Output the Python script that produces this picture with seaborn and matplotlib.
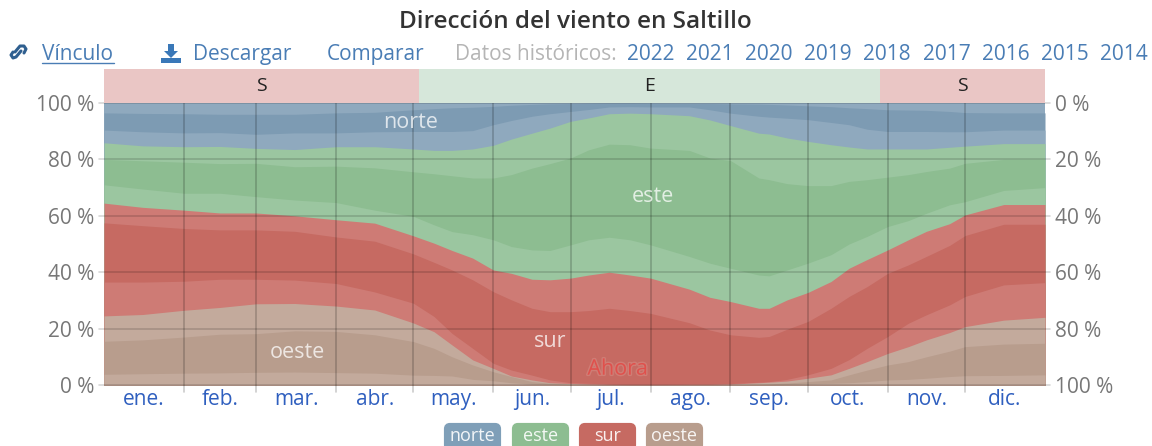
import numpy as np
import matplotlib
matplotlib.use("Agg")
import matplotlib.pyplot as plt
import matplotlib.patheffects as pe
from matplotlib.patches import FancyBboxPatch, Polygon
import seaborn as sns

# day of the year for every reading
days = [0, 15, 31, 45, 59, 74, 90, 105, 120, 128, 135, 143, 151, 158, 166, 173, 181, 188, 196, 204, 212, 227, 235, 243, 254,
        258, 265, 273, 282, 289, 296, 304, 312, 319, 328, 334, 349, 365]

# upper edge of each band (percent)
oeste_1 = [3.8, 4.0, 4.2, 4.3, 4.5, 4.6, 4.4, 4.2, 3.5, 3.4, 3.2, 2.0, 1.5, 0.8, 0.3, 0.2, 0.1, 0.1, 0.0, 0.0, 0.0, 0.0, 0.0, 0.1, 0.1,
           0.1, 0.2, 0.4, 0.6, 0.8, 1.2, 1.8, 2.0, 2.4, 3.0, 3.3, 3.4, 3.6]
oeste_2 = [15.5, 16.0, 17.0, 18.0, 18.2, 19.2, 19.0, 17.8, 15.4, 13.0, 10.0, 7.1, 4.7, 3.0, 1.2, 0.6, 0.3, 0.2, 0.1, 0.1, 0.1, 0.1, 0.1, 0.2, 0.3,
           0.4, 0.7, 1.2, 1.8, 3.6, 5.3, 7.1, 8.3, 10.0, 12.0, 13.6, 14.5, 14.8]
oeste_3 = [24.5, 25.0, 26.5, 27.5, 28.8, 28.9, 28.0, 26.6, 22.0, 18.9, 14.2, 8.9, 5.9, 3.2, 1.8, 0.8, 0.5, 0.3, 0.2, 0.1, 0.1, 0.2, 0.2, 0.3, 0.8,
           1.0, 1.4, 2.4, 3.6, 5.9, 8.3, 11.2, 13.6, 16.0, 18.6, 20.7, 23.0, 24.0]
sur_1 = [36.5, 36.5, 36.8, 37.5, 37.5, 37.2, 36.0, 33.0, 29.0, 24.3, 18.3, 13.0, 7.7, 5.3, 3.5, 1.8, 0.8, 0.6, 0.4, 0.3, 0.3, 0.4, 0.4, 0.5, 1.0,
         1.2, 2.0, 3.6, 5.9, 9.0, 13.0, 17.2, 21.9, 24.9, 28.4, 31.4, 35.5, 36.3]
sur_2 = [57.5, 56.5, 55.5, 55.0, 55.0, 54.5, 52.5, 51.0, 46.5, 43.5, 40.8, 37.3, 33.1, 30.2, 27.2, 26.0, 26.0, 26.4, 27.2, 26.4, 25.4, 22.1, 19.5, 17.8, 16.9,
         17.2, 19.8, 22.5, 27.2, 31.4, 34.9, 39.6, 42.6, 45.6, 49.5, 53.0, 57.0, 57.0]
sur_3 = [64.5, 63.0, 62.0, 61.0, 61.0, 60.0, 58.6, 57.4, 52.9, 50.3, 47.7, 45.0, 40.8, 39.6, 37.5, 37.3, 37.9, 39.0, 40.0, 39.0, 37.9, 34.0, 31.1, 29.6, 27.2,
         27.2, 30.2, 32.8, 36.7, 41.4, 44.5, 47.9, 51.5, 54.5, 57.2, 60.3, 64.0, 64.0]
este_1 = [71.0, 69.5, 68.0, 68.0, 66.8, 65.6, 64.7, 62.0, 59.8, 56.8, 54.4, 53.3, 51.5, 49.1, 47.9, 47.7, 49.7, 51.5, 52.4, 51.5, 49.7, 45.6, 43.2, 41.4, 39.0,
          38.7, 40.8, 43.2, 46.2, 50.0, 52.7, 56.2, 58.3, 60.9, 63.9, 65.0, 69.0, 70.0]
este_2 = [80.0, 79.5, 79.0, 78.5, 78.6, 77.4, 77.6, 77.0, 75.6, 74.9, 74.2, 73.4, 73.4, 74.6, 76.9, 78.5, 80.5, 83.4, 85.4, 85.2, 84.0, 83.2, 80.5, 79.6, 73.4,
          72.8, 71.4, 70.7, 70.7, 72.2, 72.8, 73.7, 74.6, 75.7, 76.9, 78.6, 80.0, 80.0]
este_3 = [85.9, 84.8, 84.5, 84.6, 83.9, 83.5, 84.5, 84.5, 83.7, 83.2, 83.2, 83.7, 85.0, 87.2, 89.3, 91.1, 93.5, 94.7, 96.2, 96.4, 96.2, 95.5, 94.0, 92.0, 89.3,
          89.0, 87.6, 86.4, 85.2, 84.4, 83.7, 83.7, 83.7, 83.7, 84.3, 84.7, 85.6, 85.6]
norte_1 = [90.4, 89.8, 89.4, 89.5, 88.9, 89.4, 89.4, 89.8, 89.9, 89.9, 89.9, 90.2, 92.3, 93.8, 95.3, 96.2, 97.0, 97.7, 98.6, 98.7, 98.6, 98.6, 97.6, 96.4, 95.3,
           95.0, 94.6, 94.1, 93.1, 92.3, 90.7, 89.9, 89.9, 89.9, 89.8, 89.8, 90.4, 90.4]
norte_2 = [96.5, 96.3, 96.2, 96.0, 96.0, 96.0, 96.5, 96.7, 97.6, 98.0, 98.3, 98.5, 98.8, 99.2, 99.5, 99.7, 99.8, 99.9, 100.0, 100.0, 99.9, 99.8, 99.8, 99.7, 99.6,
           99.5, 99.3, 99.0, 98.7, 98.3, 98.0, 97.6, 97.5, 97.4, 97.0, 96.6, 96.5, 96.5]
norte_3 = [100.0] * len(days)

month_starts = [0, 31, 59, 90, 120, 151, 181, 212, 243, 273, 304, 334, 365]
month_labels = ["ene.", "feb.", "mar.", "abr.", "may.", "jun.", "jul.", "ago.", "sep.", "oct.", "nov.", "dic."]
left_ticks = ["0 %", "20 %", "40 %", "60 %", "80 %", "100 %"]
right_ticks = ["100 %", "80 %", "60 %", "40 %", "20 %", "0 %"]
years = ["2022", "2021", "2020", "2019", "2018", "2017", "2016", "2015", "2014"]
now_day = 185
header_spans = [("S", 0, 122), ("E", 122, 301), ("S", 301, 365)]

sns.set_theme(style="white")
plt.rcParams["font.family"] = ["Open Sans", "DejaVu Sans"]

W, H = 1152, 446
fig = plt.figure(figsize=(W / 100, H / 100), dpi=100)
ax = fig.add_axes([104 / W, 1 - 385 / H, 941 / W, 282 / H])

edges = [oeste_1, oeste_2, oeste_3, sur_1, sur_2, sur_3, este_1, este_2, este_3, norte_1, norte_2, norte_3]
base = sns.color_palette(["#b89d8d", "#c66a62", "#8dbd91", "#7d9bb3"])
light = sns.color_palette(["#c3aa9c", "#ce7b75", "#9bc6a0", "#8fa9be"])
fills = []
for d, l in zip(base, light):
    fills += [l, d, l]

# top band first, each one down to zero, so no seams show between them
for edge, c in reversed(list(zip(edges, fills))):
    ax.fill_between(days, 0, edge, color=c, lw=0)

ax.set_xlim(0, 365)
ax.set_ylim(0, 100)
sns.despine(ax=ax, left=True, bottom=True)

# month lines and percent lines
for m in month_starts[1:-1]:
    ax.plot([m, m], [-2.5, 100], color="black", alpha=0.2, lw=1.2, clip_on=False)
for y in range(0, 101, 20):
    ax.plot([-2, 367], [y, y], color="black", alpha=0.16, lw=1.2, clip_on=False)

sns.lineplot(x=[now_day, now_day], y=[0, 100], color="#e8504c", alpha=0.8, lw=1.4, ax=ax, errorbar=None)
ax.text(now_day + 2.5, 5.6, "Ahora", color="#e0504c", fontsize=15.5, va="center",
        path_effects=[pe.withStroke(linewidth=2, foreground="#cf7d75")])

ax.set_yticks(range(0, 101, 20), left_ticks)
ax.tick_params(axis="y", length=0, pad=7, labelsize=15, labelcolor="#777777")
mids = [(a + b) / 2 for a, b in zip(month_starts[:-1], month_starts[1:])]
ax.set_xticks(mids, month_labels)
ax.tick_params(axis="x", length=0, pad=3, labelsize=15, labelcolor="#2f5fbf")

ax2 = ax.twinx()
ax2.set_ylim(0, 100)
ax2.set_yticks(range(0, 101, 20), right_ticks)
ax2.tick_params(axis="y", length=0, pad=7, labelsize=15, labelcolor="#777777")
sns.despine(ax=ax2, left=True, bottom=True, right=True)

ax.text(119, 93, "norte", color="white", alpha=0.75, fontsize=15.5, ha="center", va="center")
ax.text(213, 67, "este", color="white", alpha=0.75, fontsize=15.5, ha="center", va="center")
ax.text(173, 15.5, "sur", color="white", alpha=0.75, fontsize=15.5, ha="center", va="center")
ax.text(75, 11.7, "oeste", color="white", alpha=0.75, fontsize=15.5, ha="center", va="center")

# band with the main direction over the chart
hdr = fig.add_axes([104 / W, 1 - 103 / H, 941 / W, 34 / H])
for name, a, b in header_spans:
    hdr.barh(0, b - a, left=a, height=1, color="#eac6c5" if name == "S" else "#d6e7da", lw=0)
    hdr.text((a + b) / 2, 0, name, ha="center", va="center", fontsize=14, color="#222222")
hdr.set_xlim(0, 365)
hdr.set_ylim(-0.5, 0.5)
hdr.axis("off")

# everything else placed in pixels
top = fig.add_axes([0, 0, 1, 1], facecolor="none")
top.set_xlim(0, W)
top.set_ylim(H, 0)
top.axis("off")

top.text(575, 22.5, "Dirección del viento en Saltillo", ha="center", va="center",
         fontsize=17.5, fontweight="semibold", color="#333333")

link = "#4a7db5"
top.text(42, 54.5, "Vínculo", fontsize=15, va="center", color=link)
top.plot([42, 114], [63, 63], color=link, lw=1)
top.text(193, 54.5, "Descargar", fontsize=15, va="center", color=link)
top.text(327, 54.5, "Comparar", fontsize=15, va="center", color=link)
top.text(455, 54.5, "Datos históricos:", fontsize=15, va="center", color="#b5b5b5")
for i, yr in enumerate(years):
    top.text(627 + i * 59.1, 54.5, yr, fontsize=15, va="center", color=link)

# link icon
icon = "#2f5f8f"
top.plot([15, 20, 24, 26, 24], [52, 46, 46, 49, 53], color=icon, lw=2.2, solid_capstyle="round", solid_joinstyle="round")
top.plot([21, 16, 13, 11, 13], [51, 57, 58, 55, 52], color=icon, lw=2.2, solid_capstyle="round", solid_joinstyle="round")

# download icon
top.add_patch(Polygon([(168, 44), (174, 44), (174, 51), (178, 51), (171, 58), (164, 51), (168, 51)], color="#3a78b8", lw=0))
top.add_patch(Polygon([(161, 58), (181, 58), (181, 63), (161, 63)], color="#3a78b8", lw=0))

legend_items = [("norte", 443, "#7f9fb8"), ("este", 511, "#8dbd91"), ("sur", 578, "#c66a62"), ("oeste", 645, "#b89d8d")]
for name, x0, c in legend_items:
    top.add_patch(FancyBboxPatch((x0 + 3, 425), 53, 24, boxstyle="round,pad=0,rounding_size=4",
                                 mutation_aspect=1, facecolor=c, edgecolor=c, lw=3, clip_on=True))
    top.text(x0 + 29.5, 436, name, color="white", alpha=0.9, fontsize=13, ha="center", va="center")

fig.savefig("out.png", dpi=100)
